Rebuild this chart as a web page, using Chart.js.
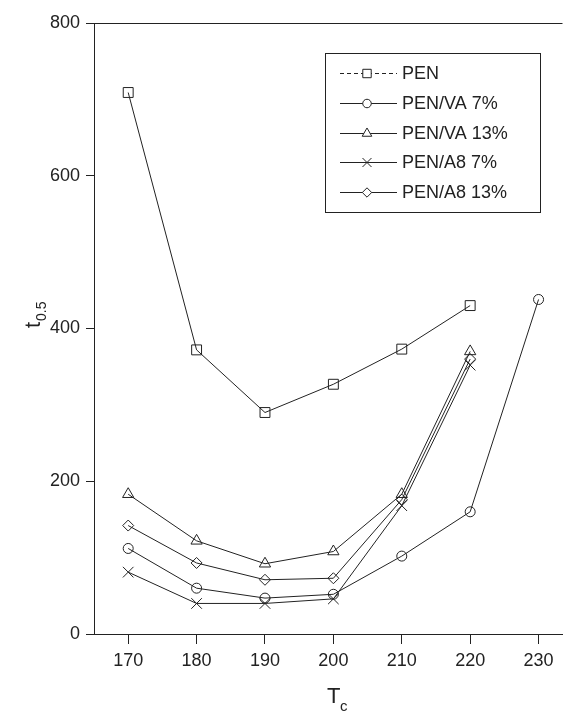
<!DOCTYPE html>
<html>
<head>
<meta charset="utf-8">
<script src="https://cdn.jsdelivr.net/npm/chart.js@4/dist/chart.umd.min.js"></script>
<style>
  html, body { margin: 0; padding: 0; background: #fff; }
  #wrap { position: relative; width: 571px; height: 712px; }
</style>
</head>
<body>
<div id="wrap"><canvas id="c" width="571" height="712"></canvas></div>
<script>
// 結晶溫度 Tc 對半結晶時間 t0.5
const TC = [170, 180, 190, 200, 210, 220, 230];
const X_TICKS = [170, 180, 190, 200, 210, 220, 230];
const Y_TICKS = [0, 200, 400, 600, 800];

const PEN      = [709, 372, 290, 327, 373, 430];
const PEN_VA7  = [112, 60, 47, 52, 102, 160, 438];
const PEN_VA13 = [183, 122, 92, 108, 183, 370];
const PEN_A87  = [81, 40, 40, 46, 168, 352];
const PEN_A813 = [142, 93, 71, 73, 176, 360];

const INK = '#222';
const FONT = '"Liberation Sans", Arial, sans-serif';

const SERIES = [
  { label: 'PEN',         data: PEN,      style: 'rect',     r: 7,   dash: [4, 3] },
  { label: 'PEN/VA 7%',   data: PEN_VA7,  style: 'circle',   r: 5,   dash: [] },
  { label: 'PEN/VA 13%',  data: PEN_VA13, style: 'triangle', r: 6.5, dash: [] },
  { label: 'PEN/A8 7%',   data: PEN_A87,  style: 'crossRot', r: 7.5, dash: [] },
  { label: 'PEN/A8 13%',  data: PEN_A813, style: 'rectRot',  r: 5.5, dash: [] },
];

const toXY = (arr) => arr.map((y, i) => ({ x: TC[i], y }));

// 圖例:框 + 線 + 空心標記
const legendBox = {
  id: 'legendBox',
  afterDraw(chart) {
    const { ctx } = chart;
    ctx.save();
    ctx.strokeStyle = INK;
    ctx.lineWidth = 1;
    ctx.strokeRect(325.5, 53.5, 215, 159);
    ctx.font = '18px ' + FONT;
    ctx.fillStyle = INK;
    ctx.textBaseline = 'middle';
    SERIES.forEach((s, i) => {
      const y = Math.round(73 + i * 29.8) + 0.5;
      ctx.setLineDash(s.dash);
      ctx.beginPath();
      ctx.moveTo(340, y); ctx.lineTo(397, y);
      ctx.stroke();
      ctx.setLineDash([]);
      const opt = { pointStyle: s.style, radius: s.r * 0.85, rotation: 0, borderWidth: 1 };
      ctx.fillStyle = '#fff';
      ctx.beginPath();
      Chart.helpers.drawPoint(ctx, opt, 367, y);
      ctx.fillStyle = INK;
      ctx.fillText(s.label, 402, y + 1);
    });
    ctx.restore();
  },
};

// 軸標題(含下標)+ 上框線
const axisTitles = {
  id: 'axisTitles',
  afterDraw(chart) {
    const { ctx, chartArea } = chart;
    ctx.save();
    ctx.strokeStyle = INK;
    ctx.lineWidth = 1;
    ctx.beginPath();
    ctx.moveTo(chartArea.left, chartArea.top + 0.5);
    ctx.lineTo(chartArea.right, chartArea.top + 0.5);
    ctx.stroke();

    ctx.fillStyle = INK;
    ctx.textBaseline = 'alphabetic';
    // x:Tc
    ctx.font = '22px ' + FONT;
    ctx.fillText('T', 327, 703);
    ctx.font = '15px ' + FONT;
    ctx.fillText('c', 340, 711);
    // y:t0.5
    ctx.translate(40, 318);
    ctx.rotate(-Math.PI / 2);
    ctx.font = '22px ' + FONT;
    ctx.fillText('t', -10, 0);
    ctx.font = '14px ' + FONT;
    ctx.fillText('0.5', -3, 6);
    ctx.restore();
  },
};

new Chart(document.getElementById('c'), {
  type: 'line',
  data: {
    datasets: SERIES.map((s) => ({
      label: s.label,
      data: toXY(s.data),
      borderColor: INK,
      borderWidth: 1,
      tension: 0,
      pointStyle: s.style,
      pointRadius: s.r,
      pointHoverRadius: s.r,
      pointBorderColor: INK,
      pointBorderWidth: 1,
      pointBackgroundColor: 'rgba(255,255,255,0)',
      fill: false,
    })),
  },
  options: {
    responsive: false,
    animation: false,
    layout: { padding: { top: 23, right: 0, left: 0, bottom: 0 } },
    plugins: { legend: { display: false }, tooltip: { enabled: false } },
    scales: {
      x: {
        type: 'linear',
        min: 165, max: 233.5,
        afterBuildTicks: (s) => { s.ticks = X_TICKS.map((v) => ({ value: v })); },
        afterFit: (s) => { s.height = 78; },
        grid: { drawOnChartArea: false, drawTicks: true, tickLength: 10, color: INK },
        border: { display: true, color: INK, width: 1 },
        ticks: { color: INK, font: { size: 18, family: FONT }, padding: 6, maxRotation: 0 },
      },
      y: {
        min: 0, max: 800,
        afterBuildTicks: (s) => { s.ticks = Y_TICKS.map((v) => ({ value: v })); },
        afterFit: (s) => { s.width = 94; },
        grid: { drawOnChartArea: false, drawTicks: true, tickLength: 8, color: INK },
        border: { display: true, color: INK, width: 1 },
        ticks: { color: INK, font: { size: 18, family: FONT }, padding: 6 },
      },
    },
  },
  plugins: [legendBox, axisTitles],
});
</script>
</body>
</html>
